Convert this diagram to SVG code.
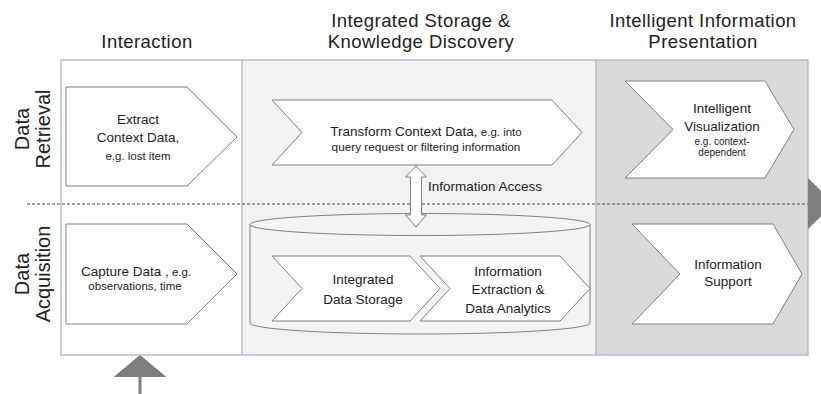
<svg xmlns="http://www.w3.org/2000/svg" width="821" height="394" viewBox="0 0 821 394">
<style>
.hdr{font-family:"Liberation Sans",Arial,sans-serif;font-size:18.5px;letter-spacing:0.45px;fill:#222;text-anchor:middle}
.row{font-family:"Liberation Sans",Arial,sans-serif;font-size:20px;fill:#222;text-anchor:middle}
.t{font-family:"Liberation Sans",Arial,sans-serif;font-size:13.5px;fill:#222;text-anchor:middle}
.s{font-size:11.5px}
.shape{fill:#fff;stroke:#808080;stroke-width:1}
.grid{stroke:#a9b6c9;stroke-width:1.3;fill:none}
.tri{fill:#7f7f7f}
</style>
<rect width="821" height="394" fill="#fff"/>
<g id="columns">
<rect x="61" y="60" width="181" height="295" fill="#fff"/>
<rect x="242" y="60" width="354" height="295" fill="#f2f2f2"/>
<rect x="596" y="60" width="212" height="295" fill="#d9d9d9"/>
<rect class="grid" x="61" y="60" width="747" height="295"/>
<line class="grid" x1="242" y1="60" x2="242" y2="355"/>
<line class="grid" x1="596" y1="60" x2="596" y2="355"/>
</g>
<line x1="27" y1="204" x2="808" y2="204" stroke="#808080" stroke-width="1.3" stroke-dasharray="3,2"/>
<g id="headers">
<text class="hdr" x="147" y="48">Interaction</text>
<text class="hdr" x="421" y="27">Integrated Storage &amp;</text>
<text class="hdr" x="421" y="48">Knowledge Discovery</text>
<text class="hdr" x="703" y="27">Intelligent Information</text>
<text class="hdr" x="703" y="48">Presentation</text>
</g>
<g id="row-labels">
<text class="row" transform="translate(29,129) rotate(-90)">Data</text>
<text class="row" transform="translate(50,129) rotate(-90)">Retrieval</text>
<text class="row" transform="translate(29,274) rotate(-90)">Data</text>
<text class="row" transform="translate(50,274) rotate(-90)">Acquisition</text>
</g>
<g id="extract">
<path class="shape" d="M66,87 H187 L237,137 L187,186 H66 Z"/>
<text class="t" x="138" y="124">Extract</text>
<text class="t" x="138" y="142">Context Data,</text>
<text class="t s" x="138" y="160">e.g. lost item</text>
</g>
<g id="capture">
<path class="shape" d="M66,224 H187 L237,274 L187,324 H66 Z"/>
<text class="t" x="136" y="275.5">Capture Data ,<tspan class="s"> e.g.</tspan></text>
<text class="t s" x="135" y="290">observations, time</text>
</g>
<g id="transform">
<path class="shape" d="M272,100 H552 L582,132.5 L552,165 H272 L302,132.5 Z"/>
<text class="t" x="426" y="136">Transform Context Data,<tspan class="s"> e.g. into</tspan></text>
<text class="t" x="426" y="151" style="font-size:11.8px">query request or filtering information</text>
</g>
<g id="storage">
<path fill="#f4f4f4" stroke="#808080" d="M250,224.5 V323 A170,11 0 0 0 590,323 V224.5 Z"/>
<ellipse cx="420" cy="224.5" rx="170" ry="11" fill="#f4f4f4" stroke="#808080"/>
</g>
<g id="integrated">
<path class="shape" d="M272,256 H410 L440,288.5 L410,321 H272 L302,288.5 Z"/>
<text class="t" x="363" y="284">Integrated</text>
<text class="t" x="363" y="304">Data Storage</text>
</g>
<g id="extraction">
<path class="shape" d="M420,256 H560 L590,288.5 L560,321 H420 L450,288.5 Z"/>
<text class="t" x="508" y="275.5">Information</text>
<text class="t" x="508" y="294">Extraction &amp;</text>
<text class="t" x="508" y="312.5">Data Analytics</text>
</g>
<g id="visualization">
<path class="shape" d="M625,81 H765 L794,129.5 L765,178 H625 L673,129.5 Z"/>
<text class="t" x="722" y="113">Intelligent</text>
<text class="t" x="722" y="131">Visualization</text>
<text class="t" x="722" y="144.5" style="font-size:10px">e.g. context-</text>
<text class="t" x="722" y="156" style="font-size:10px">dependent</text>
</g>
<g id="support">
<path class="shape" d="M632,224 H773 L802,274 L773,324 H632 L680,274 Z"/>
<text class="t" x="728" y="269">Information</text>
<text class="t" x="728" y="285.5">Support</text>
</g>
<g id="connectors">
<path class="shape" d="M416,166 L426.5,177 H421.5 V215 H426.5 L416,227 L405.5,215 H410.5 V177 H405.5 Z"/>
<text class="t" x="428" y="191" style="text-anchor:start">Information Access</text>
<path class="tri" d="M808,178 L834,203.5 L808,229 Z"/>
<path class="tri" d="M140,355 L166.5,377 H113.5 Z"/>
<rect class="tri" x="138.5" y="376" width="3" height="18"/>
</g>
</svg>
